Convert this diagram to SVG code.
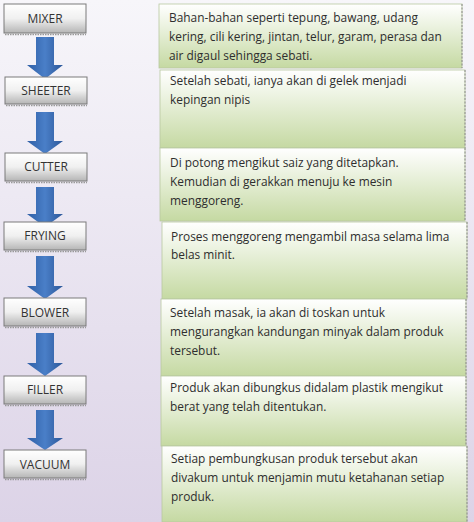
<svg xmlns="http://www.w3.org/2000/svg" width="474" height="522" viewBox="0 0 474 522">
<defs>
<linearGradient id="bg" x1="0" y1="0" x2="0" y2="1">
<stop offset="0" stop-color="#f7f6fa"/>
<stop offset="1" stop-color="#dcd3e7"/>
</linearGradient>
<linearGradient id="gray" x1="0" y1="0" x2="0" y2="1">
<stop offset="0" stop-color="#ffffff"/>
<stop offset="0.5" stop-color="#f0f0f0"/>
<stop offset="1" stop-color="#b5b5b5"/>
</linearGradient>
<linearGradient id="green" x1="0" y1="0" x2="0" y2="1">
<stop offset="0" stop-color="#ffffff"/>
<stop offset="0.3" stop-color="#eef4e4"/>
<stop offset="1" stop-color="#c5d9a2"/>
</linearGradient>
<linearGradient id="blue" x1="0" y1="0" x2="1" y2="0">
<stop offset="0" stop-color="#2f5fa6"/>
<stop offset="0.5" stop-color="#4a7fc8"/>
<stop offset="1" stop-color="#2c5799"/>
</linearGradient>
<style>
.step{fill:url(#gray);stroke:#7a7a7a;stroke-width:1}
.shadow{fill:none;stroke:#9a9a9a;stroke-width:1.5;stroke-dasharray:1.5 1}
.desc{fill:url(#green);stroke:#b8c9a0;stroke-width:0.8}
.edge{stroke:#8a8a8a;stroke-width:1;stroke-dasharray:2 1.5}
.lbl{font-family:"Open Sans","Liberation Sans",sans-serif;font-size:12px;fill:#333;text-anchor:middle}
.txt{font-family:"Open Sans","Liberation Sans",sans-serif;font-size:11.9px;fill:#2e2e2e}
.arr{fill:url(#blue)}
</style>
</defs>
<rect x="0" y="0" width="474" height="522" fill="url(#bg)"/>
<g id="connectors">
<path class="arr" d="M36,37 H54 V65 H63 L45,79 L27,65 H36 Z"/>
<path class="arr" d="M36,112 H54 V141 H63 L45,154 L27,141 H36 Z"/>
<path class="arr" d="M36,187 H54 V214 H63 L45,227 L27,214 H36 Z"/>
<path class="arr" d="M36,256 H54 V286 H63 L45,299 L27,286 H36 Z"/>
<path class="arr" d="M36,333 H54 V363 H63 L45,376 L27,363 H36 Z"/>
<path class="arr" d="M36,410 H54 V438 H63 L45,450 L27,438 H36 Z"/>
</g>
<g id="mixer"><rect class="step" x="4" y="4" width="82" height="29"/><line class="shadow" x1="5" y1="34.5" x2="86" y2="34.5"/><text class="lbl" x="45" y="23">MIXER</text></g>
<g id="sheeter"><rect class="step" x="5" y="77" width="82" height="27"/><line class="shadow" x1="6" y1="105.5" x2="87" y2="105.5"/><text class="lbl" x="46" y="95">SHEETER</text></g>
<g id="cutter"><rect class="step" x="5" y="153" width="82" height="28"/><line class="shadow" x1="6" y1="182.5" x2="87" y2="182.5"/><text class="lbl" x="46" y="171">CUTTER</text></g>
<g id="frying"><rect class="step" x="4" y="222" width="82" height="28"/><line class="shadow" x1="5" y1="251.5" x2="86" y2="251.5"/><text class="lbl" x="45" y="240">FRYING</text></g>
<g id="blower"><rect class="step" x="4" y="298" width="82" height="28"/><line class="shadow" x1="5" y1="327.5" x2="86" y2="327.5"/><text class="lbl" x="45" y="317">BLOWER</text></g>
<g id="filler"><rect class="step" x="4" y="376" width="82" height="28"/><line class="shadow" x1="5" y1="405.5" x2="86" y2="405.5"/><text class="lbl" x="45" y="394">FILLER</text></g>
<g id="vacuum"><rect class="step" x="4" y="450" width="82" height="28"/><line class="shadow" x1="5" y1="479.5" x2="86" y2="479.5"/><text class="lbl" x="45" y="469">VACUUM</text></g>

<g id="desc1"><rect class="desc" x="159" y="4" width="303" height="64"/><line class="edge" x1="462" y1="4" x2="462" y2="68"/>
<text class="txt" x="169" y="22">Bahan-bahan seperti tepung, bawang, udang</text>
<text class="txt" x="169" y="41">kering, cili kering, jintan, telur, garam, perasa dan</text>
<text class="txt" x="169" y="60">air digaul sehingga sebati.</text></g>
<g id="desc2"><rect class="desc" x="160" y="70" width="305" height="78"/><line class="edge" x1="465" y1="70" x2="465" y2="148"/>
<text class="txt" x="170" y="85">Setelah sebati, ianya akan di gelek menjadi</text>
<text class="txt" x="170" y="104">kepingan nipis</text></g>
<g id="desc3"><rect class="desc" x="160" y="148" width="305" height="73"/><line class="edge" x1="465" y1="148" x2="465" y2="221"/>
<text class="txt" x="170" y="167">Di potong mengikut saiz yang ditetapkan.</text>
<text class="txt" x="170" y="186">Kemudian di gerakkan menuju ke mesin</text>
<text class="txt" x="170" y="205">menggoreng.</text></g>
<g id="desc4"><rect class="desc" x="162" y="222" width="305" height="77"/><line class="edge" x1="467" y1="222" x2="467" y2="299"/>
<text class="txt" x="171" y="241">Proses menggoreng mengambil masa selama lima</text>
<text class="txt" x="171" y="259">belas minit.</text></g>
<g id="desc5"><rect class="desc" x="161" y="299" width="305" height="77"/><line class="edge" x1="466" y1="299" x2="466" y2="376"/>
<text class="txt" x="170" y="317">Setelah masak, ia akan di toskan untuk</text>
<text class="txt" x="170" y="336">mengurangkan kandungan minyak dalam produk</text>
<text class="txt" x="170" y="355">tersebut.</text></g>
<g id="desc6"><rect class="desc" x="161" y="376" width="305" height="70"/><line class="edge" x1="466" y1="376" x2="466" y2="446"/>
<text class="txt" x="170" y="392">Produk akan dibungkus didalam plastik mengikut</text>
<text class="txt" x="170" y="411">berat yang telah ditentukan.</text></g>
<g id="desc7"><rect class="desc" x="162" y="446" width="305" height="76"/><line class="edge" x1="467" y1="446" x2="467" y2="522"/>
<text class="txt" x="171" y="463">Setiap pembungkusan produk tersebut akan</text>
<text class="txt" x="171" y="482">divakum untuk menjamin mutu ketahanan setiap</text>
<text class="txt" x="171" y="501">produk.</text></g>
</svg>
